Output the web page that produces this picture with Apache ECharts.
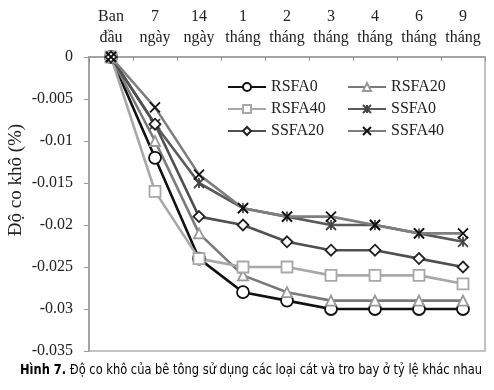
<!DOCTYPE html>
<html><head><meta charset="utf-8">
<script src="https://cdn.jsdelivr.net/npm/echarts@6/dist/echarts.min.js"></script>
<style>html,body{margin:0;padding:0;background:#fff}#c{width:494px;height:390px}</style>
</head><body><div id="c"></div>
<script>
var categories = ['Ban\nđầu','7\nngày','14\nngày','1\ntháng','2\ntháng','3\ntháng','4\ntháng','6\ntháng','9\ntháng'];
var RSFA0  = [0,-0.012,-0.024,-0.028,-0.029,-0.030,-0.030,-0.030,-0.030];
var RSFA20 = [0,-0.010,-0.021,-0.026,-0.028,-0.029,-0.029,-0.029,-0.029];
var RSFA40 = [0,-0.016,-0.024,-0.025,-0.025,-0.026,-0.026,-0.026,-0.027];
var SSFA0  = [0,-0.008,-0.015,-0.018,-0.019,-0.020,-0.020,-0.021,-0.022];
var SSFA20 = [0,-0.008,-0.019,-0.020,-0.022,-0.023,-0.023,-0.024,-0.025];
var SSFA40 = [0,-0.006,-0.014,-0.018,-0.019,-0.019,-0.020,-0.021,-0.021];
var yTitle = 'Độ co khô (%)';
var caption = 'Hình 7.';
var captionRest = ' Độ co khô của bê tông sử dụng các loại cát và tro bay ở tỷ lệ khác nhau';

var SERIF = '"Liberation Serif","Times New Roman",serif';
var SANS = '"DejaVu Sans Condensed","Liberation Sans Narrow",sans-serif';
var starPath = 'path://M5,0L5,10M0,0L10,10M10,0L0,10';
var xPath = 'path://M0,0L10,10M10,0L0,10';

// measure caption to fit the reference width
var cv = document.createElement('canvas').getContext('2d');
cv.font = 'bold 14px ' + SANS;
var w1 = cv.measureText(caption).width;
cv.font = 'normal 14px ' + SANS;
var w2 = cv.measureText(captionRest).width;
var capScale = 462 / (w1 + w2);

function mk(name, data, lineColor, symbol, size, markColor, fill) {
  return {
    name: name, type: 'line', data: data, symbol: symbol, symbolSize: size,
    showSymbol: true,
    lineStyle: {color: lineColor, width: 2.6},
    itemStyle: {color: fill, borderColor: markColor, borderWidth: 1.8},
    emphasis: {disabled: true}, animation: false
  };
}

var chart = echarts.init(document.getElementById('c'), null, {renderer: 'canvas'});
chart.setOption({
  animation: false,
  grid: {left: 89, right: 9, top: 57, bottom: 39, show: true, borderColor: '#b0b0b0', borderWidth: 1.5},
  xAxis: {
    type: 'category', position: 'top', data: categories, boundaryGap: true,
    axisLine: {lineStyle: {color: '#999', width: 1.5}},
    axisTick: {show: true, inside: true, length: 4, lineStyle: {color: '#999'}},
    axisLabel: {interval: 0, color: '#222', fontFamily: SERIF, fontSize: 16, lineHeight: 21, margin: 9}
  },
  yAxis: {
    type: 'value', min: -0.035, max: 0, interval: 0.005,
    splitLine: {show: false},
    axisLine: {show: true, lineStyle: {color: '#999', width: 1.5}},
    axisTick: {show: true, length: 5, lineStyle: {color: '#999'}},
    axisLabel: {color: '#222', fontFamily: SERIF, fontSize: 16, margin: 16,
      formatter: function (v) { var r = parseFloat(v.toFixed(3)); return r === 0 ? '0' : String(r); }}
  },
  legend: [
    {data: ['RSFA0','RSFA40','SSFA20'], orient: 'vertical', left: 222, top: 74, itemGap: 6,
     itemWidth: 38, itemHeight: 10, textStyle: {fontFamily: SERIF, fontSize: 16, color: '#222'}},
    {data: ['RSFA20','SSFA0','SSFA40'], orient: 'vertical', left: 342, top: 74, itemGap: 6,
     itemWidth: 38, itemHeight: 10, textStyle: {fontFamily: SERIF, fontSize: 16, color: '#222'}}
  ],
  graphic: [{
    type: 'text', x: 16, y: 180, rotation: Math.PI / 2,
    style: {text: yTitle, font: '19px "Liberation Serif", serif', fill: '#222',
      align: 'center', verticalAlign: 'middle'}
  }, {
    type: 'text', x: 20, y: 370, scaleX: capScale, scaleY: 1,
    style: {text: '{b|' + caption + '}{r|' + captionRest + '}', verticalAlign: 'middle',
      rich: {
        b: {fontFamily: SANS, fontWeight: 'bold', fontSize: 14, fill: '#000'},
        r: {fontFamily: SANS, fontWeight: 'normal', fontSize: 14, fill: '#000'}
      }}
  }],
  series: [
    mk('RSFA0', RSFA0, '#111', 'circle', 12, '#111', '#fff'),
    mk('RSFA20', RSFA20, '#7a7a7a', 'triangle', 10, '#999', '#fff'),
    mk('RSFA40', RSFA40, '#a8a8a8', 'rect', 11, '#a8a8a8', '#fff'),
    mk('SSFA0', SSFA0, '#5a5a5a', starPath, 10, '#444', '#fff'),
    mk('SSFA20', SSFA20, '#505050', 'diamond', 11, '#222', '#fff'),
    mk('SSFA40', SSFA40, '#7e7e7e', xPath, 10, '#111', '#fff')
  ]
});
</script></body></html>
